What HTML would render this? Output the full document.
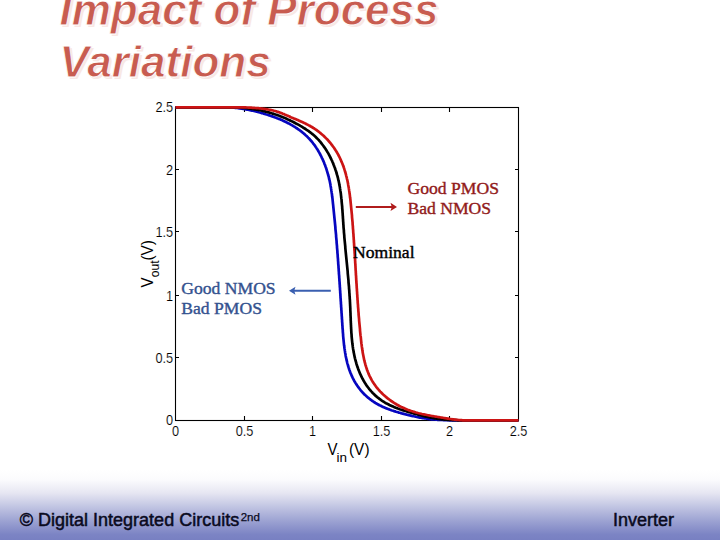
<!DOCTYPE html>
<html><head><meta charset="utf-8">
<style>
html,body{margin:0;padding:0;}
body{width:720px;height:540px;position:relative;overflow:hidden;background:#fff;font-family:"Liberation Sans",sans-serif;}
#foot{position:absolute;left:0;top:470px;width:720px;height:70px;background:linear-gradient(to bottom,#ffffff 0%,#fbfbfd 14%,#e6e6f2 33%,#c0c4e2 53%,#9ca2d2 73%,#7c84c4 92%,#7880c2 100%);}
.title{position:absolute;font-family:"Liberation Sans",sans-serif;font-weight:bold;font-style:italic;font-size:44px;color:#c85c50;white-space:nowrap;line-height:1;-webkit-text-stroke:0.8px #fff;}
.sh{color:#f8e8e5;-webkit-text-stroke:0;}
svg{position:absolute;left:0;top:0;}
.ft{position:absolute;font-size:18px;color:#0a0a1e;white-space:nowrap;line-height:1;-webkit-text-stroke:0.5px #0a0a1e;}
</style></head><body>
<div id="foot"></div>
<div class="title sh" style="left:61.5px;top:-9.8px;">Impact of Process</div>
<div class="title sh" style="left:61.5px;top:42.3px;">Variations</div>
<div class="title" style="left:59.5px;top:-11.8px;">Impact of Process</div>
<div class="title" style="left:59.5px;top:40.3px;">Variations</div>
<svg width="720" height="540" viewBox="0 0 720 540">
<g font-family="Liberation Sans, sans-serif" font-size="14.5" fill="#000">
<rect x="175.5" y="107.5" width="343" height="313" fill="none" stroke="#000" stroke-width="1.1"/>
<g stroke="#000" stroke-width="1.1">
<path d="M244.5 420v-4M312.5 420v-4M381.5 420v-4M449.5 420v-4M244.5 108v4M312.5 108v4M381.5 108v4M449.5 108v4"/>
<path d="M176 357.5h3M176 295.5h3M176 231.5h3M176 169.5h3M518 357.5h-3M518 295.5h-3M518 231.5h-3M518 169.5h-3"/>
</g>
<g text-anchor="end" stroke="#fff" stroke-width="0.15">
<text transform="translate(173,425) scale(0.88,1)">0</text>
<text transform="translate(173.2,363) scale(0.88,1)">0.5</text>
<text transform="translate(173.2,301.1) scale(0.88,1)">1</text>
<text transform="translate(173.2,237) scale(0.88,1)">1.5</text>
<text transform="translate(173.2,175.1) scale(0.88,1)">2</text>
<text transform="translate(173.2,112.3) scale(0.88,1)">2.5</text>
</g>
<g text-anchor="middle" stroke="#fff" stroke-width="0.15">
<text transform="translate(175.5,436.2) scale(0.88,1)">0</text>
<text transform="translate(244.5,436.2) scale(0.88,1)">0.5</text>
<text transform="translate(312.5,436.2) scale(0.88,1)">1</text>
<text transform="translate(381.5,436.2) scale(0.88,1)">1.5</text>
<text transform="translate(449.5,436.2) scale(0.88,1)">2</text>
<text transform="translate(518.5,436.2) scale(0.88,1)">2.5</text>
</g>
<text x="327.5" y="455" font-size="16.5" textLength="10" lengthAdjust="spacingAndGlyphs">V</text>
<text x="336.5" y="461.5" font-size="13.5">in</text>
<text x="349" y="455" font-size="16.5" textLength="20.5" lengthAdjust="spacingAndGlyphs">(V)</text>
<g transform="translate(153,287) rotate(-90)">
<text x="-0.5" y="0" font-size="16.5" textLength="10" lengthAdjust="spacingAndGlyphs">V</text>
<text x="9.8" y="6.4" font-size="13.5" textLength="16.8" lengthAdjust="spacingAndGlyphs">out</text>
<text x="26.5" y="0" font-size="16.5" textLength="20.5" lengthAdjust="spacingAndGlyphs">(V)</text>
</g>
</g>
<g fill="none" stroke-width="2.7" stroke-linejoin="round" stroke-linecap="butt">
<path stroke="#0606c0" d="M175.4 107.3 L227.4 107.3 L228.4 107.3 L229.4 107.3 L230.4 107.4 L231.4 107.4 L232.4 107.5 L233.3 107.6 L234.3 107.7 L235.3 107.8 L236.3 107.9 L237.3 108.0 L238.3 108.2 L239.2 108.3 L240.2 108.4 L241.2 108.6 L242.2 108.7 L243.2 108.9 L244.2 109.0 L245.1 109.2 L246.1 109.4 L247.1 109.6 L248.1 109.8 L249.0 110.0 L250.0 110.2 L251.0 110.4 L252.0 110.6 L253.0 110.8 L253.9 111.0 L254.9 111.3 L255.9 111.5 L256.9 111.8 L257.8 112.0 L258.8 112.3 L259.8 112.5 L260.8 112.8 L261.7 113.1 L262.7 113.3 L263.7 113.6 L264.7 113.9 L265.6 114.2 L266.6 114.5 L267.6 114.8 L268.5 115.1 L269.5 115.4 L270.5 115.8 L271.4 116.1 L272.4 116.4 L273.3 116.8 L274.3 117.1 L275.2 117.5 L276.2 117.8 L277.1 118.2 L278.1 118.6 L279.0 118.9 L280.0 119.3 L280.9 119.7 L281.8 120.1 L282.7 120.5 L283.7 121.0 L284.6 121.4 L285.5 121.8 L286.4 122.3 L287.3 122.7 L288.2 123.2 L289.1 123.6 L290.0 124.1 L290.8 124.6 L291.7 125.1 L292.6 125.6 L293.4 126.1 L294.3 126.6 L295.1 127.2 L295.9 127.7 L296.8 128.2 L297.6 128.8 L298.4 129.4 L299.2 129.9 L300.0 130.5 L300.8 131.1 L301.6 131.7 L302.3 132.3 L303.1 132.9 L303.8 133.6 L304.6 134.2 L305.3 134.9 L306.0 135.5 L306.8 136.2 L307.5 136.9 L308.1 137.6 L308.8 138.3 L309.5 139.0 L310.2 139.8 L310.8 140.5 L311.4 141.2 L312.1 142.0 L312.7 142.8 L313.3 143.6 L313.9 144.3 L314.5 145.1 L315.1 146.0 L315.6 146.8 L316.2 147.6 L316.7 148.4 L317.3 149.3 L317.8 150.1 L318.3 151.0 L318.8 151.9 L319.3 152.7 L319.8 153.6 L320.2 154.5 L320.7 155.4 L321.2 156.3 L321.6 157.2 L322.0 158.1 L322.5 159.0 L322.9 159.9 L323.3 160.9 L323.7 161.8 L324.1 162.7 L324.4 163.7 L324.8 164.6 L325.2 165.6 L325.5 166.5 L325.9 167.5 L326.2 168.4 L326.5 169.4 L326.8 170.4 L327.1 171.3 L327.4 172.3 L327.7 173.3 L328.0 174.3 L328.2 175.2 L328.5 176.2 L328.8 177.2 L329.0 178.2 L329.2 179.2 L329.5 180.1 L329.7 181.1 L329.9 182.1 L330.1 183.1 L330.3 184.1 L330.5 185.1 L330.6 186.0 L330.8 187.0 L331.0 188.0 L331.1 189.0 L331.3 190.0 L331.4 190.9 L331.6 191.9 L331.7 192.9 L331.9 193.9 L332.0 194.9 L332.1 195.9 L332.2 196.9 L332.4 197.8 L332.5 198.8 L332.6 199.8 L332.7 200.8 L332.8 201.8 L332.9 202.8 L333.0 203.8 L333.1 204.7 L333.2 205.7 L333.3 206.7 L333.4 207.7 L333.5 208.7 L333.6 209.7 L333.7 210.7 L333.8 211.6 L333.9 212.6 L334.0 213.6 L334.1 214.6 L334.2 215.6 L334.3 216.6 L334.4 217.6 L334.5 218.6 L334.6 219.6 L334.7 220.5 L334.8 221.5 L334.9 222.5 L335.0 223.5 L335.1 224.5 L335.2 225.5 L335.3 226.5 L335.4 227.5 L335.4 228.5 L335.5 229.5 L335.6 230.5 L335.7 231.4 L335.8 232.4 L335.9 233.4 L336.0 234.4 L336.1 235.4 L336.1 236.4 L336.2 237.4 L336.3 238.4 L336.4 239.4 L336.5 240.4 L336.6 241.4 L336.6 242.4 L336.7 243.4 L336.8 244.4 L336.9 245.3 L337.0 246.3 L337.0 247.3 L337.1 248.3 L337.2 249.3 L337.3 250.3 L337.4 251.3 L337.4 252.3 L337.5 253.3 L337.6 254.3 L337.7 255.3 L337.7 256.3 L337.8 257.3 L337.9 258.3 L338.0 259.3 L338.0 260.3 L338.1 261.3 L338.2 262.3 L338.2 263.3 L338.3 264.3 L338.4 265.3 L338.5 266.3 L338.5 267.3 L338.6 268.3 L338.7 269.3 L338.7 270.3 L338.8 271.3 L338.9 272.3 L338.9 273.3 L339.0 274.3 L339.1 275.3 L339.2 276.3 L339.2 277.3 L339.3 278.3 L339.4 279.3 L339.4 280.3 L339.5 281.3 L339.6 282.3 L339.6 283.3 L339.7 284.3 L339.8 285.3 L339.8 286.3 L339.9 287.3 L340.0 288.3 L340.0 289.3 L340.1 290.3 L340.2 291.3 L340.2 292.3 L340.3 293.3 L340.4 294.3 L340.4 295.3 L340.5 296.3 L340.5 297.3 L340.6 298.3 L340.7 299.3 L340.7 300.3 L340.8 301.3 L340.9 302.3 L340.9 303.3 L341.0 304.3 L341.1 305.3 L341.1 306.4 L341.2 307.4 L341.3 308.4 L341.3 309.4 L341.4 310.4 L341.5 311.4 L341.5 312.4 L341.6 313.4 L341.7 314.4 L341.7 315.4 L341.8 316.4 L341.9 317.4 L341.9 318.4 L342.0 319.4 L342.1 320.4 L342.1 321.5 L342.2 322.5 L342.3 323.5 L342.3 324.5 L342.4 325.5 L342.5 326.5 L342.5 327.5 L342.6 328.5 L342.7 329.5 L342.8 330.5 L342.8 331.5 L342.9 332.5 L343.0 333.6 L343.1 334.6 L343.1 335.6 L343.2 336.6 L343.3 337.6 L343.4 338.6 L343.5 339.6 L343.6 340.6 L343.7 341.6 L343.8 342.6 L343.9 343.6 L344.0 344.6 L344.1 345.6 L344.3 346.6 L344.4 347.6 L344.5 348.5 L344.7 349.5 L344.8 350.5 L345.0 351.5 L345.1 352.5 L345.3 353.5 L345.5 354.4 L345.6 355.4 L345.8 356.4 L346.0 357.4 L346.2 358.3 L346.4 359.3 L346.6 360.3 L346.9 361.2 L347.1 362.2 L347.3 363.1 L347.6 364.1 L347.9 365.0 L348.1 366.0 L348.4 366.9 L348.7 367.9 L349.0 368.8 L349.3 369.7 L349.7 370.7 L350.0 371.6 L350.3 372.5 L350.7 373.4 L351.1 374.3 L351.5 375.2 L351.9 376.1 L352.3 377.0 L352.7 377.9 L353.2 378.8 L353.6 379.7 L354.1 380.6 L354.6 381.5 L355.1 382.3 L355.6 383.2 L356.2 384.0 L356.7 384.9 L357.3 385.7 L357.9 386.6 L358.5 387.4 L359.1 388.2 L359.7 389.0 L360.3 389.8 L361.0 390.6 L361.6 391.3 L362.3 392.1 L362.9 392.8 L363.6 393.5 L364.3 394.3 L365.1 394.9 L365.8 395.6 L366.5 396.3 L367.3 397.0 L368.0 397.6 L368.8 398.2 L369.5 398.8 L370.3 399.4 L371.1 400.0 L371.9 400.6 L372.7 401.2 L373.5 401.7 L374.4 402.2 L375.2 402.8 L376.0 403.3 L376.9 403.8 L377.7 404.2 L378.6 404.7 L379.5 405.2 L380.3 405.6 L381.2 406.0 L382.1 406.5 L383.0 406.9 L383.9 407.3 L384.8 407.7 L385.7 408.1 L386.6 408.4 L387.5 408.8 L388.5 409.1 L389.4 409.5 L390.3 409.8 L391.3 410.2 L392.2 410.5 L393.2 410.8 L394.1 411.1 L395.1 411.4 L396.0 411.7 L397.0 412.0 L398.0 412.3 L398.9 412.6 L399.9 412.8 L400.9 413.1 L401.9 413.4 L402.8 413.6 L403.8 413.9 L404.8 414.2 L405.8 414.4 L406.8 414.7 L407.8 414.9 L408.8 415.2 L409.8 415.4 L410.8 415.6 L411.8 415.9 L412.8 416.1 L413.8 416.3 L414.8 416.5 L415.8 416.8 L416.8 417.0 L417.8 417.2 L418.8 417.4 L419.8 417.6 L420.8 417.7 L421.8 417.9 L422.8 418.1 L423.8 418.2 L424.8 418.4 L425.8 418.5 L426.8 418.7 L427.8 418.8 L428.8 418.9 L429.8 419.1 L430.8 419.2 L431.7 419.3 L432.7 419.4 L433.7 419.5 L434.7 419.5 L435.7 419.6 L436.7 419.7 L437.7 419.8 L438.7 419.8 L439.7 419.9 L440.6 419.9 L441.6 420.0 L442.6 420.0 L443.6 420.1 L444.6 420.1 L445.6 420.2 L446.6 420.2 L447.6 420.2 L448.5 420.2 L449.5 420.3 L450.5 420.3 L518.5 420.3"/>
<path stroke="#000" d="M175.5 107.3 L229.5 107.3 L230.5 107.3 L231.5 107.3 L232.5 107.3 L233.5 107.3 L234.5 107.3 L235.5 107.4 L236.5 107.4 L237.5 107.5 L238.5 107.5 L239.5 107.6 L240.5 107.7 L241.4 107.7 L242.4 107.8 L243.4 107.9 L244.4 108.0 L245.4 108.1 L246.4 108.2 L247.4 108.3 L248.4 108.4 L249.3 108.6 L250.3 108.7 L251.3 108.8 L252.3 109.0 L253.3 109.1 L254.2 109.3 L255.2 109.4 L256.2 109.6 L257.2 109.8 L258.2 110.0 L259.1 110.1 L260.1 110.3 L261.1 110.5 L262.1 110.8 L263.0 111.0 L264.0 111.2 L265.0 111.4 L265.9 111.7 L266.9 111.9 L267.9 112.2 L268.8 112.4 L269.8 112.7 L270.8 113.0 L271.7 113.3 L272.7 113.6 L273.6 113.9 L274.6 114.2 L275.5 114.5 L276.5 114.8 L277.4 115.1 L278.4 115.5 L279.4 115.8 L280.3 116.2 L281.2 116.6 L282.2 116.9 L283.1 117.3 L284.1 117.7 L285.0 118.1 L286.0 118.5 L286.9 118.9 L287.8 119.4 L288.7 119.8 L289.7 120.2 L290.6 120.7 L291.5 121.1 L292.4 121.6 L293.3 122.0 L294.2 122.5 L295.1 123.0 L296.0 123.5 L296.9 123.9 L297.8 124.4 L298.7 124.9 L299.6 125.4 L300.4 125.9 L301.3 126.4 L302.1 126.9 L303.0 127.5 L303.8 128.0 L304.7 128.5 L305.5 129.0 L306.3 129.6 L307.1 130.1 L307.9 130.7 L308.7 131.2 L309.5 131.8 L310.3 132.4 L311.1 133.0 L311.8 133.6 L312.6 134.2 L313.3 134.8 L314.1 135.5 L314.8 136.1 L315.5 136.8 L316.2 137.5 L316.9 138.2 L317.6 138.9 L318.3 139.6 L319.0 140.3 L319.6 141.1 L320.3 141.8 L320.9 142.6 L321.5 143.4 L322.1 144.2 L322.7 145.0 L323.3 145.8 L323.9 146.6 L324.5 147.4 L325.1 148.3 L325.6 149.1 L326.2 150.0 L326.7 150.8 L327.2 151.7 L327.8 152.6 L328.3 153.4 L328.8 154.3 L329.2 155.2 L329.7 156.1 L330.2 157.0 L330.6 158.0 L331.1 158.9 L331.5 159.8 L332.0 160.7 L332.4 161.7 L332.8 162.6 L333.2 163.5 L333.5 164.5 L333.9 165.4 L334.3 166.4 L334.6 167.3 L335.0 168.3 L335.3 169.2 L335.6 170.2 L335.9 171.1 L336.3 172.1 L336.5 173.0 L336.8 174.0 L337.1 175.0 L337.4 175.9 L337.6 176.9 L337.9 177.8 L338.1 178.8 L338.3 179.8 L338.5 180.7 L338.8 181.7 L339.0 182.7 L339.2 183.6 L339.3 184.6 L339.5 185.6 L339.7 186.5 L339.9 187.5 L340.0 188.5 L340.2 189.4 L340.3 190.4 L340.5 191.4 L340.6 192.3 L340.8 193.3 L340.9 194.3 L341.0 195.3 L341.1 196.2 L341.2 197.2 L341.3 198.2 L341.5 199.2 L341.6 200.2 L341.6 201.1 L341.7 202.1 L341.8 203.1 L341.9 204.1 L342.0 205.1 L342.1 206.0 L342.2 207.0 L342.2 208.0 L342.3 209.0 L342.4 210.0 L342.5 211.0 L342.5 211.9 L342.6 212.9 L342.7 213.9 L342.7 214.9 L342.8 215.9 L342.9 216.9 L342.9 217.9 L343.0 218.9 L343.1 219.9 L343.1 220.8 L343.2 221.8 L343.3 222.8 L343.3 223.8 L343.4 224.8 L343.5 225.8 L343.5 226.8 L343.6 227.8 L343.7 228.8 L343.8 229.8 L343.9 230.8 L343.9 231.8 L344.0 232.8 L344.1 233.8 L344.2 234.8 L344.3 235.8 L344.3 236.8 L344.4 237.8 L344.5 238.8 L344.6 239.8 L344.7 240.8 L344.8 241.8 L344.9 242.8 L345.0 243.8 L345.1 244.8 L345.2 245.8 L345.3 246.8 L345.3 247.8 L345.4 248.8 L345.5 249.8 L345.6 250.8 L345.7 251.8 L345.8 252.8 L345.9 253.8 L346.0 254.8 L346.1 255.8 L346.2 256.8 L346.3 257.8 L346.4 258.8 L346.5 259.8 L346.6 260.8 L346.7 261.8 L346.8 262.8 L346.9 263.8 L347.0 264.8 L347.1 265.8 L347.2 266.9 L347.3 267.9 L347.4 268.9 L347.5 269.9 L347.6 270.9 L347.7 271.9 L347.7 272.9 L347.8 273.9 L347.9 274.9 L348.0 275.9 L348.1 276.9 L348.2 277.9 L348.3 278.9 L348.4 279.9 L348.5 281.0 L348.5 282.0 L348.6 283.0 L348.7 284.0 L348.8 285.0 L348.9 286.0 L349.0 287.0 L349.0 288.0 L349.1 289.0 L349.2 290.0 L349.3 291.0 L349.3 292.1 L349.4 293.1 L349.5 294.1 L349.5 295.1 L349.6 296.1 L349.7 297.1 L349.7 298.1 L349.8 299.1 L349.9 300.1 L349.9 301.1 L350.0 302.1 L350.0 303.1 L350.1 304.2 L350.1 305.2 L350.2 306.2 L350.2 307.2 L350.3 308.2 L350.3 309.2 L350.3 310.2 L350.4 311.2 L350.4 312.2 L350.5 313.2 L350.5 314.2 L350.5 315.2 L350.6 316.2 L350.6 317.2 L350.7 318.2 L350.7 319.2 L350.7 320.3 L350.8 321.3 L350.8 322.3 L350.9 323.3 L350.9 324.3 L351.0 325.3 L351.0 326.3 L351.1 327.3 L351.1 328.3 L351.2 329.2 L351.2 330.2 L351.3 331.2 L351.3 332.2 L351.4 333.2 L351.5 334.2 L351.6 335.2 L351.6 336.2 L351.7 337.2 L351.8 338.2 L351.9 339.2 L352.0 340.1 L352.1 341.1 L352.2 342.1 L352.3 343.1 L352.4 344.1 L352.6 345.0 L352.7 346.0 L352.8 347.0 L353.0 348.0 L353.1 348.9 L353.3 349.9 L353.5 350.9 L353.6 351.9 L353.8 352.8 L354.0 353.8 L354.2 354.7 L354.4 355.7 L354.6 356.7 L354.8 357.6 L355.0 358.6 L355.3 359.5 L355.5 360.5 L355.8 361.4 L356.1 362.4 L356.3 363.3 L356.6 364.3 L356.9 365.2 L357.2 366.1 L357.5 367.1 L357.9 368.0 L358.2 369.0 L358.5 369.9 L358.9 370.8 L359.3 371.7 L359.7 372.7 L360.0 373.6 L360.5 374.5 L360.9 375.4 L361.3 376.3 L361.7 377.2 L362.2 378.1 L362.7 379.0 L363.2 379.9 L363.6 380.8 L364.2 381.6 L364.7 382.5 L365.2 383.3 L365.8 384.2 L366.3 385.0 L366.9 385.9 L367.5 386.7 L368.1 387.5 L368.7 388.3 L369.3 389.1 L370.0 389.9 L370.6 390.6 L371.3 391.4 L372.0 392.1 L372.6 392.9 L373.3 393.6 L374.1 394.3 L374.8 395.0 L375.5 395.7 L376.3 396.3 L377.0 397.0 L377.8 397.6 L378.6 398.2 L379.4 398.8 L380.2 399.4 L381.0 400.0 L381.8 400.6 L382.6 401.1 L383.4 401.6 L384.3 402.2 L385.1 402.7 L386.0 403.2 L386.9 403.6 L387.7 404.1 L388.6 404.5 L389.5 405.0 L390.4 405.4 L391.3 405.8 L392.2 406.2 L393.1 406.6 L394.0 407.0 L395.0 407.4 L395.9 407.8 L396.8 408.1 L397.8 408.5 L398.7 408.8 L399.6 409.2 L400.6 409.5 L401.6 409.8 L402.5 410.1 L403.5 410.4 L404.4 410.7 L405.4 411.0 L406.4 411.3 L407.3 411.6 L408.3 411.9 L409.3 412.2 L410.3 412.5 L411.2 412.7 L412.2 413.0 L413.2 413.3 L414.2 413.6 L415.2 413.8 L416.1 414.1 L417.1 414.3 L418.1 414.6 L419.1 414.9 L420.1 415.1 L421.0 415.4 L422.0 415.6 L423.0 415.9 L424.0 416.1 L425.0 416.4 L425.9 416.6 L426.9 416.8 L427.9 417.0 L428.9 417.2 L429.9 417.4 L430.8 417.6 L431.8 417.8 L432.8 418.0 L433.8 418.2 L434.8 418.4 L435.8 418.5 L436.7 418.7 L437.7 418.8 L438.7 418.9 L439.7 419.1 L440.7 419.2 L441.7 419.3 L442.6 419.4 L443.6 419.5 L444.6 419.6 L445.6 419.7 L446.6 419.7 L447.6 419.8 L448.6 419.9 L449.6 419.9 L450.5 420.0 L451.5 420.0 L452.5 420.1 L453.5 420.1 L454.5 420.2 L455.5 420.2 L456.5 420.2 L457.5 420.3 L458.5 420.3 L518.5 420.3"/>
<path stroke="#cc1414" d="M175.5 107.3 L239.4 107.3 L240.4 107.3 L241.4 107.3 L242.4 107.3 L243.4 107.4 L244.4 107.4 L245.4 107.4 L246.4 107.5 L247.4 107.5 L248.4 107.6 L249.4 107.6 L250.4 107.7 L251.4 107.7 L252.4 107.8 L253.4 107.8 L254.3 107.9 L255.3 108.0 L256.3 108.1 L257.3 108.1 L258.3 108.2 L259.3 108.3 L260.3 108.4 L261.3 108.5 L262.3 108.6 L263.3 108.8 L264.3 108.9 L265.3 109.0 L266.3 109.2 L267.2 109.3 L268.2 109.5 L269.2 109.7 L270.2 109.9 L271.2 110.1 L272.2 110.3 L273.1 110.5 L274.1 110.8 L275.1 111.0 L276.1 111.3 L277.0 111.6 L278.0 111.9 L279.0 112.2 L279.9 112.6 L280.9 112.9 L281.9 113.3 L282.8 113.7 L283.8 114.1 L284.7 114.5 L285.7 114.9 L286.6 115.3 L287.6 115.7 L288.5 116.1 L289.5 116.5 L290.4 117.0 L291.3 117.4 L292.3 117.8 L293.2 118.2 L294.1 118.6 L295.1 118.9 L296.0 119.3 L296.9 119.7 L297.8 120.1 L298.7 120.5 L299.6 120.9 L300.5 121.3 L301.4 121.7 L302.3 122.1 L303.2 122.5 L304.1 122.9 L304.9 123.3 L305.8 123.7 L306.7 124.2 L307.5 124.6 L308.4 125.1 L309.2 125.5 L310.1 126.0 L310.9 126.5 L311.8 127.0 L312.6 127.5 L313.4 128.0 L314.3 128.5 L315.1 129.1 L315.9 129.6 L316.7 130.2 L317.5 130.8 L318.3 131.4 L319.1 132.0 L319.8 132.6 L320.6 133.2 L321.4 133.9 L322.1 134.5 L322.9 135.2 L323.6 135.8 L324.3 136.5 L325.0 137.2 L325.7 137.9 L326.4 138.6 L327.1 139.3 L327.8 140.0 L328.5 140.8 L329.1 141.5 L329.8 142.3 L330.4 143.0 L331.0 143.8 L331.6 144.6 L332.2 145.4 L332.8 146.2 L333.4 147.0 L334.0 147.8 L334.6 148.7 L335.1 149.5 L335.6 150.3 L336.2 151.2 L336.7 152.0 L337.2 152.9 L337.7 153.8 L338.2 154.6 L338.6 155.5 L339.1 156.4 L339.6 157.3 L340.0 158.2 L340.4 159.1 L340.8 160.0 L341.2 160.9 L341.6 161.9 L342.0 162.8 L342.4 163.7 L342.8 164.7 L343.1 165.6 L343.5 166.5 L343.8 167.5 L344.1 168.4 L344.4 169.4 L344.7 170.3 L345.0 171.3 L345.3 172.3 L345.6 173.2 L345.8 174.2 L346.1 175.2 L346.3 176.1 L346.6 177.1 L346.8 178.1 L347.0 179.1 L347.3 180.0 L347.5 181.0 L347.7 182.0 L347.9 183.0 L348.1 184.0 L348.2 184.9 L348.4 185.9 L348.6 186.9 L348.8 187.9 L348.9 188.9 L349.1 189.9 L349.2 190.9 L349.4 191.9 L349.5 192.8 L349.6 193.8 L349.8 194.8 L349.9 195.8 L350.0 196.8 L350.1 197.8 L350.3 198.8 L350.4 199.8 L350.5 200.8 L350.6 201.8 L350.7 202.8 L350.8 203.8 L350.9 204.8 L351.0 205.8 L351.1 206.8 L351.2 207.8 L351.3 208.8 L351.4 209.8 L351.5 210.8 L351.6 211.8 L351.7 212.8 L351.8 213.8 L351.9 214.8 L352.0 215.8 L352.0 216.8 L352.1 217.8 L352.2 218.8 L352.3 219.8 L352.4 220.8 L352.5 221.8 L352.6 222.8 L352.6 223.8 L352.7 224.8 L352.8 225.8 L352.9 226.8 L352.9 227.8 L353.0 228.8 L353.1 229.8 L353.2 230.8 L353.2 231.8 L353.3 232.8 L353.4 233.8 L353.5 234.8 L353.5 235.8 L353.6 236.8 L353.7 237.8 L353.7 238.8 L353.8 239.8 L353.9 240.8 L353.9 241.8 L354.0 242.8 L354.1 243.8 L354.1 244.8 L354.2 245.8 L354.3 246.8 L354.3 247.8 L354.4 248.8 L354.4 249.7 L354.5 250.7 L354.6 251.7 L354.6 252.7 L354.7 253.7 L354.8 254.7 L354.8 255.7 L354.9 256.7 L354.9 257.7 L355.0 258.7 L355.1 259.7 L355.1 260.7 L355.2 261.7 L355.2 262.7 L355.3 263.7 L355.4 264.6 L355.4 265.6 L355.5 266.6 L355.5 267.6 L355.6 268.6 L355.6 269.6 L355.7 270.6 L355.8 271.6 L355.8 272.6 L355.9 273.6 L355.9 274.6 L356.0 275.5 L356.1 276.5 L356.1 277.5 L356.2 278.5 L356.2 279.5 L356.3 280.5 L356.4 281.5 L356.4 282.5 L356.5 283.5 L356.6 284.5 L356.6 285.4 L356.7 286.4 L356.7 287.4 L356.8 288.4 L356.9 289.4 L356.9 290.4 L357.0 291.4 L357.1 292.4 L357.1 293.4 L357.2 294.4 L357.3 295.4 L357.3 296.4 L357.4 297.4 L357.5 298.3 L357.5 299.3 L357.6 300.3 L357.7 301.3 L357.7 302.3 L357.8 303.3 L357.9 304.3 L358.0 305.3 L358.0 306.3 L358.1 307.3 L358.2 308.3 L358.3 309.3 L358.3 310.3 L358.4 311.3 L358.5 312.3 L358.6 313.3 L358.6 314.3 L358.7 315.3 L358.8 316.3 L358.9 317.3 L359.0 318.3 L359.1 319.3 L359.1 320.3 L359.2 321.3 L359.3 322.3 L359.4 323.3 L359.5 324.3 L359.6 325.3 L359.7 326.3 L359.8 327.3 L359.9 328.3 L360.0 329.3 L360.0 330.3 L360.1 331.4 L360.2 332.4 L360.3 333.4 L360.4 334.4 L360.5 335.4 L360.7 336.4 L360.8 337.4 L360.9 338.4 L361.0 339.5 L361.1 340.5 L361.2 341.5 L361.3 342.5 L361.4 343.5 L361.6 344.5 L361.7 345.5 L361.8 346.5 L362.0 347.6 L362.1 348.6 L362.3 349.6 L362.4 350.6 L362.6 351.6 L362.7 352.6 L362.9 353.6 L363.1 354.6 L363.3 355.6 L363.5 356.5 L363.7 357.5 L363.9 358.5 L364.1 359.5 L364.3 360.5 L364.6 361.4 L364.8 362.4 L365.1 363.4 L365.3 364.3 L365.6 365.3 L365.9 366.2 L366.2 367.2 L366.5 368.1 L366.8 369.0 L367.1 370.0 L367.5 370.9 L367.8 371.8 L368.2 372.7 L368.5 373.6 L368.9 374.5 L369.3 375.4 L369.7 376.3 L370.2 377.2 L370.6 378.0 L371.1 378.9 L371.5 379.7 L372.0 380.6 L372.5 381.4 L373.0 382.3 L373.6 383.1 L374.1 383.9 L374.7 384.7 L375.3 385.5 L375.8 386.3 L376.4 387.1 L377.0 387.8 L377.7 388.6 L378.3 389.4 L379.0 390.1 L379.6 390.8 L380.3 391.6 L381.0 392.3 L381.7 393.0 L382.4 393.7 L383.1 394.4 L383.8 395.0 L384.6 395.7 L385.3 396.4 L386.1 397.0 L386.8 397.7 L387.6 398.3 L388.4 398.9 L389.2 399.5 L390.0 400.1 L390.8 400.7 L391.6 401.3 L392.5 401.8 L393.3 402.4 L394.1 402.9 L395.0 403.5 L395.9 404.0 L396.7 404.5 L397.6 405.0 L398.5 405.5 L399.4 406.0 L400.3 406.4 L401.2 406.9 L402.1 407.3 L403.0 407.7 L403.9 408.1 L404.8 408.5 L405.7 408.9 L406.6 409.3 L407.6 409.7 L408.5 410.0 L409.4 410.4 L410.4 410.7 L411.3 411.0 L412.3 411.3 L413.2 411.6 L414.2 411.9 L415.2 412.2 L416.1 412.5 L417.1 412.7 L418.0 413.0 L419.0 413.3 L420.0 413.5 L421.0 413.7 L421.9 414.0 L422.9 414.2 L423.9 414.4 L424.9 414.6 L425.9 414.8 L426.9 415.0 L427.9 415.2 L428.8 415.4 L429.8 415.6 L430.8 415.8 L431.8 416.0 L432.8 416.1 L433.8 416.3 L434.8 416.5 L435.8 416.6 L436.8 416.8 L437.8 417.0 L438.8 417.1 L439.8 417.3 L440.8 417.5 L441.8 417.6 L442.8 417.8 L443.8 418.0 L444.8 418.1 L445.8 418.3 L446.7 418.4 L447.7 418.6 L448.7 418.7 L449.7 418.9 L450.7 419.0 L451.7 419.2 L452.7 419.3 L453.7 419.4 L454.7 419.6 L455.7 419.7 L456.7 419.8 L457.7 419.9 L458.7 420.0 L459.7 420.1 L460.6 420.2 L461.6 420.2 L462.6 420.3 L463.6 420.3 L464.6 420.3 L465.6 420.3 L466.6 420.3 L518.5 420.3"/>
</g>
<g>
<line x1="355.8" y1="206.9" x2="392" y2="206.9" stroke="#b01c1c" stroke-width="2"/>
<path d="M397 206.9 L390.5 202.8 L391.8 206.9 L390.5 211 Z" fill="#b01c1c"/>
<line x1="294" y1="290.8" x2="330.8" y2="290.8" stroke="#3a5fb0" stroke-width="2"/>
<path d="M289 290.8 L295.5 286.8 L294.2 290.8 L295.5 294.8 Z" fill="#3a5fb0"/>
</g>
<g font-family="Liberation Serif, serif" font-size="17.6" stroke-width="0.4">
<text x="407.5" y="193.5" fill="#921b1b" stroke="#921b1b">Good PMOS</text>
<text x="407.5" y="214.3" fill="#921b1b" stroke="#921b1b">Bad NMOS</text>
<text x="353" y="258.2" fill="#000" stroke="#000">Nominal</text>
<text x="181.3" y="293.8" fill="#34528f" stroke="#34528f">Good NMOS</text>
<text x="181.3" y="313.8" fill="#34528f" stroke="#34528f">Bad PMOS</text>
</g>
</svg>
<div class="ft" style="left:19.8px;top:510.8px;">© Digital Integrated Circuits<span style="font-size:11.5px;position:relative;top:0.8px;left:1.5px;vertical-align:top;-webkit-text-stroke:0.25px #0a0a1e;">2nd</span></div>
<div class="ft" style="left:613px;top:510.5px;">Inverter</div>
</body></html>
